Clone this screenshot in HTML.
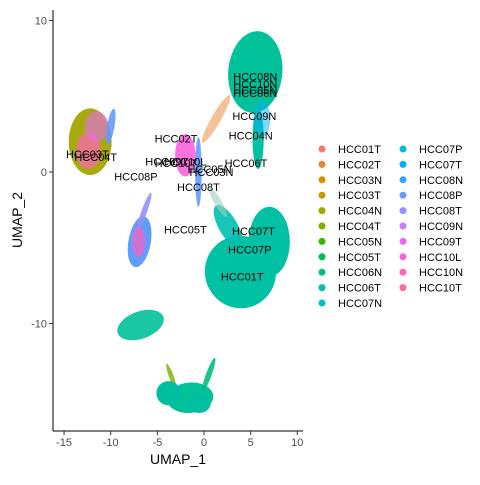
<!DOCTYPE html>
<html><head><meta charset="utf-8"><style>
body{margin:0;background:#fff}
svg text{font-family:"Liberation Sans",sans-serif}
</style></head><body>
<svg id="chart" width="480" height="480" viewBox="0 0 480 480" xmlns="http://www.w3.org/2000/svg">
<rect width="480" height="480" fill="#fff"/>
<g id="blobs"></g>
<g id="labels"></g>
<g id="axes"></g>
<g id="legend"></g>
</svg>
<script>
const xTicks=[-15,-10,-5,0,5,10];
const yTicks=[-10,0,10];
const samples=["HCC01T","HCC02T","HCC03N","HCC03T","HCC04N","HCC04T","HCC05N","HCC05T","HCC06N","HCC06T","HCC07N","HCC07P","HCC07T","HCC08N","HCC08P","HCC08T","HCC09N","HCC09T","HCC10L","HCC10N","HCC10T"];
const sampleColors=["#F8766D","#EA8331","#D89000","#C09B00","#A3A500","#7CAE00","#39B600","#00BB4E","#00BF7D","#00C1A3","#00BFC4","#00BAE0","#00B0F6","#35A2FF","#619CFF","#9590FF","#C77CFF","#E76BF3","#FA62DB","#FF62BC","#FF6C91"];
const blobCx=[5.5,5.8,6.2,-12.2,-12.4,-11.5,-10.0,-2.0,-0.6,1.3,3.9,7.0,2.6,1.5,-6.9,-6.4,-7.0,-6.8,-1.5,0.5,-3.5,-3.8,-0.5];
const blobCy=[6.6,2.2,3.5,2.0,1.4,3.0,3.0,1.1,0.0,3.5,-6.6,-4.6,-3.6,-2.0,-4.6,-2.6,-4.6,-10.1,-14.9,-13.4,-13.5,-14.6,-15.3];
const blobRx=[2.9,0.6,0.9,2.3,1.3,1.3,0.4,1.1,0.35,0.5,3.8,2.2,1.0,0.4,1.2,0.3,0.7,2.6,2.5,0.3,0.25,1.3,1.2];
const blobRy=[2.7,2.0,1.2,2.2,1.2,1.0,1.2,1.4,2.3,1.8,2.4,2.3,1.6,1.1,1.7,1.3,1.0,0.9,1.0,1.2,0.9,0.8,0.6];
const blobRot=[5,0,0,0,0,0,10,0,0,30,-20,0,-30,-30,10,20,0,-20,-5,20,-20,0,0];
const blobColor=["#00C19A","#00C1A3","#00B0F6","#A3A500","#FF62BC","#E76BF3","#619CFF","#FA62DB","#619CFF","#EA8331","#00C1A3","#00C1A3","#00BFB0","#9CCFC0","#619CFF","#9590FF","#FF62BC","#00C19A","#00C19A","#00BF7D","#7CAE00","#00BFA0","#00BFA0"];
const blobOp=[1,1,0.5,0.95,0.7,0.6,0.9,0.9,0.9,0.5,1,1,0.9,0.6,1,0.9,0.7,0.9,1,0.9,0.8,1,1];
const labelText=["HCC08N","HCC10N","HCC05N","HCC06N","HCC09N","HCC04N","HCC02T","HCC06T","HCC03T","HCC04T","HCC10L","HCC09T","HCC05N","HCC03N","HCC08P","HCC08T","HCC05T","HCC07T","HCC07P","HCC01T","HCC10T"];
const labelX=[5.5,5.5,5.5,5.5,5.4,5.0,-3.0,4.5,-12.5,-11.6,-2.0,-4.0,0.6,0.8,-7.3,-0.6,-2.0,5.3,4.9,4.1,-3.0];
const labelY=[6.3,5.8,5.4,5.2,3.7,2.4,2.2,0.6,1.2,1.0,0.7,0.7,0.2,0.0,-0.3,-1.0,-3.8,-3.9,-5.1,-6.9,0.6];
const X=v=>204+v*9.33, Y=v=>172-v*15.15;
const NS="http://www.w3.org/2000/svg";
function mk(tag,attrs,parent){const e=document.createElementNS(NS,tag);for(const k in attrs)e.setAttribute(k,attrs[k]);parent.appendChild(e);return e;}
const gB=document.getElementById('blobs');
for(let i=0;i<blobCx.length;i++){
 const e=mk('ellipse',{cx:X(blobCx[i]),cy:Y(blobCy[i]),rx:blobRx[i]*9.33,ry:blobRy[i]*15.15,fill:blobColor[i],'fill-opacity':blobOp[i],transform:`rotate(${blobRot[i]} ${X(blobCx[i])} ${Y(blobCy[i])})`},gB);
 
 
}
const gL=document.getElementById('labels');
for(let i=0;i<labelText.length;i++){
 const t=mk('text',{x:X(labelX[i]),y:Y(labelY[i])+4,'font-size':11,'text-anchor':'middle',fill:'#000'},gL);
 t.textContent=labelText[i];
 
 
}
const gA=document.getElementById('axes');
const ax=mk('line',{x1:53,y1:10,x2:53,y2:431,stroke:'#000','stroke-width':1},gA);

const ay=mk('line',{x1:53,y1:431,x2:303,y2:431,stroke:'#000','stroke-width':1},gA);

xTicks.forEach(v=>{
 const l=mk('line',{x1:X(v),x2:X(v),y1:431,y2:435,stroke:'#333'},gA);
 
 const t=mk('text',{x:X(v),y:446,'font-size':11,'text-anchor':'middle',fill:'#4d4d4d'},gA);
 t.textContent=v;
});
yTicks.forEach(v=>{
 const l=mk('line',{x1:49,x2:53,y1:Y(v),y2:Y(v),stroke:'#333'},gA);
 
 const t=mk('text',{x:47,y:Y(v)+4,'font-size':11,'text-anchor':'end',fill:'#4d4d4d'},gA);
 t.textContent=v;
});
const xt=mk('text',{x:178,y:464,'font-size':14,'text-anchor':'middle'},gA);xt.textContent='UMAP_1';

const yt=mk('text',{x:0,y:0,'font-size':14,'text-anchor':'middle',transform:'translate(22,220) rotate(-90)'},gA);yt.textContent='UMAP_2';

const gG=document.getElementById('legend');
samples.forEach((s,i)=>{
 const col=i<11?0:1,row=i<11?i:i-11;
 const x=col?403:322,y=149+row*15.4;
 const c=mk('circle',{cx:x,cy:y,r:3.5,fill:sampleColors[i]},gG);
 
 const t=mk('text',{x:x+16,y:y+4,'font-size':11,fill:'#000'},gG);t.textContent=s;
 
});
</script>
</body></html>
